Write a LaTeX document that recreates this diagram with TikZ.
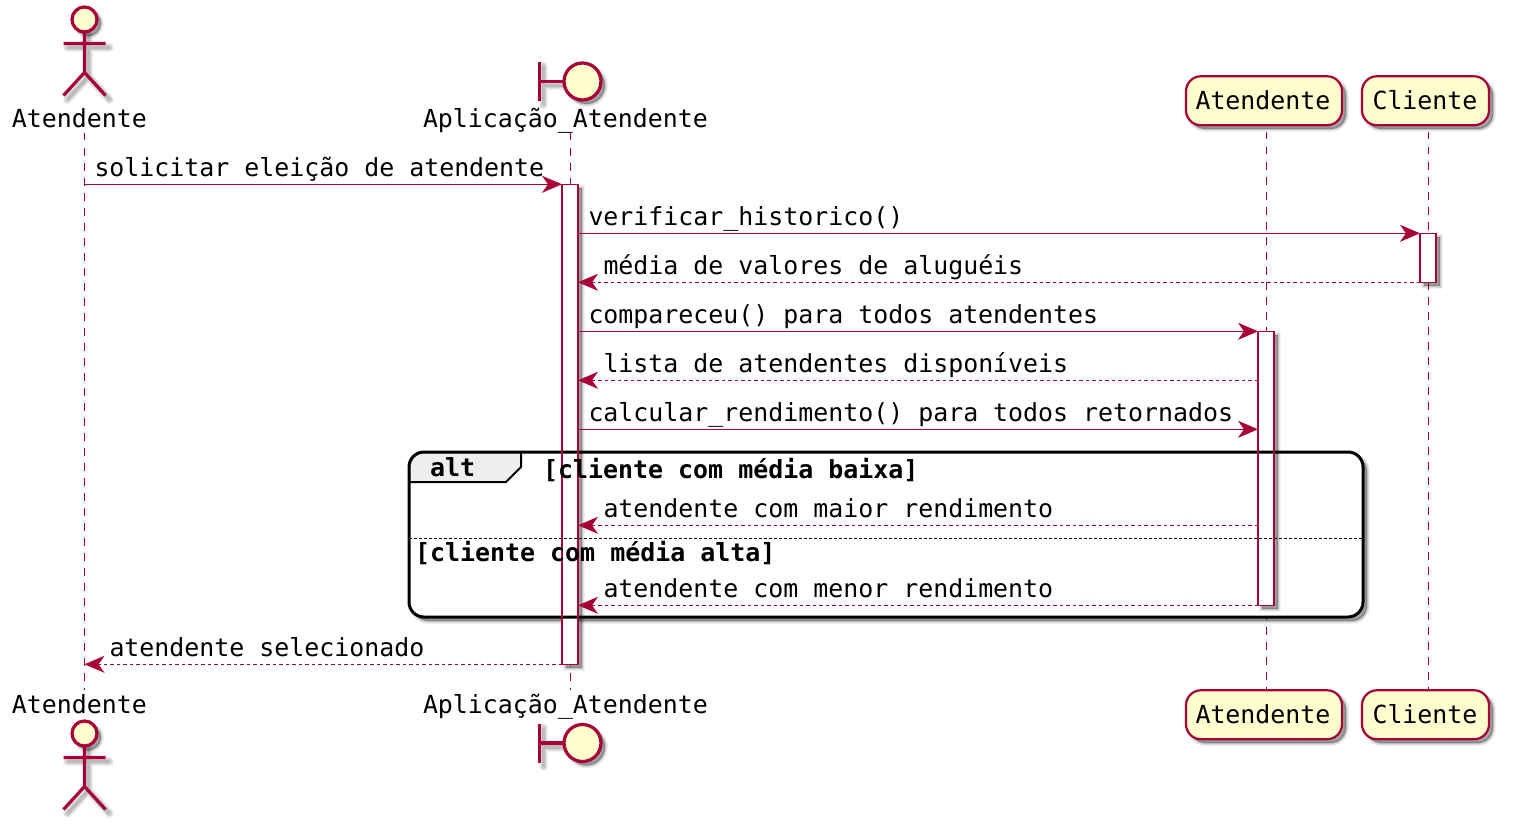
\documentclass[tikz,border=0pt]{standalone}
\usepackage{fontspec}
\setmonofont{DejaVu Sans Mono}
\usetikzlibrary{arrows.meta}
\definecolor{puml}{HTML}{A80036}
\definecolor{pumlfill}{HTML}{FEFECE}
\definecolor{tabfill}{HTML}{EEEEEE}
\newcommand{\softline}[2]{%
  \begin{scope}[shift={(4,4)}]
    \draw[black,opacity=.05,line width=#1pt+6pt,line cap=round] #2;
    \draw[black,opacity=.06,line width=#1pt+4pt,line cap=round] #2;
    \draw[black,opacity=.08,line width=#1pt+2pt,line cap=round] #2;
    \draw[black,opacity=.10,line width=#1pt] #2;
  \end{scope}}
\newcommand{\softfill}[1]{%
  \begin{scope}[shift={(4,4)}]
    \fill[black,opacity=.05,draw=black,draw opacity=.05,line width=6pt] #1;
    \fill[black,opacity=.08,draw=black,draw opacity=.08,line width=4pt] #1;
    \fill[black,opacity=.10,draw=black,draw opacity=.10,line width=2pt] #1;
    \fill[black,opacity=.14] #1;
  \end{scope}}
\newcommand{\actorfig}[2]{% x, head-centre y
  \softline{3.2}{(#1-21,#2+24) -- (#1+21,#2+24) (#1,#2+12) -- (#1,#2+53) (#1-21,#2+76) -- (#1,#2+53) -- (#1+21,#2+76)}
  \softfill{(#1,#2) circle (12.5)}
  \draw[actline] (#1-21,#2+24) -- (#1+21,#2+24) (#1,#2+12) -- (#1,#2+53) (#1-21,#2+76) -- (#1,#2+53) -- (#1+21,#2+76);
  \draw[actline,fill=pumlfill] (#1,#2) circle (12.5);}
\newcommand{\boundaryfig}[2]{% circle centre
  \softline{3.2}{(#1-43,#2-19.5) -- (#1-43,#2+19.5) (#1-43,#2) -- (#1-18,#2)}
  \softfill{(#1,#2) circle (18.5)}
  \draw[actline] (#1-43,#2-19.5) -- (#1-43,#2+19.5) (#1-43,#2) -- (#1-18,#2);
  \draw[actline,fill=pumlfill] (#1,#2) circle (18.5);}
\tikzset{
  x=1pt,y=-1pt,
  every node/.style={font=\ttfamily\fontsize{24.9pt}{28pt}\selectfont,text=black,inner sep=0pt,outer sep=0pt},
  txt/.style={anchor=base west},
  boldtxt/.style={anchor=base west,font=\ttfamily\bfseries\fontsize{24.95pt}{28pt}\selectfont},
  actline/.style={draw=puml,line width=3.2pt},
  lifeline/.style={draw=puml,line width=1.5pt,dash pattern=on 7.5pt off 7.5pt},
  partbox/.style={draw=puml,line width=2.2pt,fill=pumlfill,rounded corners=15pt,minimum height=49pt},
  barbox/.style={draw=puml,line width=1.8pt,fill=white,minimum width=16pt},
  msg/.style={draw=puml,line width=1.6pt,-{Stealth[length=20pt,width=17pt,inset=6pt,fill=puml]}},
  ret/.style={msg,dash pattern=on 3.5pt off 3pt},
}
\begin{document}
\begin{tikzpicture}
\useasboundingbox[fill=white] (0,0) rectangle (1515,824);

% named anchors of lifelines
\coordinate (a1) at (84.5,133);  \coordinate (a1e) at (84.5,690);
\coordinate (a2) at (570.5,133); \coordinate (a2e) at (570.5,690);
\coordinate (a3) at (1266.5,132);  \coordinate (a3e) at (1266.5,690);
\coordinate (a4) at (1428.5,132);  \coordinate (a4e) at (1428.5,690);

% message rows
\coordinate (r1) at (0,184.3); \coordinate (r2) at (0,233.3); \coordinate (r3) at (0,282.3);
\coordinate (r4) at (0,331.3); \coordinate (r5) at (0,380.3); \coordinate (r6) at (0,429.3);
\coordinate (r7) at (0,525.3); \coordinate (r8) at (0,605.3); \coordinate (r9) at (0,664.3);

% lifelines
\draw[lifeline] (a1) -- (a1e);
\draw[lifeline] (a2) -- (a2e);
\draw[lifeline] (a3) -- (a3e);
\draw[lifeline] (a4) -- (a4e);

% participants
\actorfig{84.5}{19.5}
\actorfig{84.5}{733.5}
\node[txt] (actT) at (12,128) {Atendente};
\node[txt] (actB) at (12,713) {Atendente};

\boundaryfig{582.5}{81.5}
\boundaryfig{582.5}{743}
\node[txt] (appT) at (423,128) {Aplicação\_Atendente};
\node[txt] (appB) at (423,713) {Aplicação\_Atendente};

\softfill{[rounded corners=15pt] (1186,76.5) rectangle (1342,125)}
\softfill{[rounded corners=15pt] (1362,76.5) rectangle (1489,125)}
\softfill{[rounded corners=15pt] (1186,690.5) rectangle (1342,739)}
\softfill{[rounded corners=15pt] (1362,690.5) rectangle (1489,739)}
\node[partbox,minimum width=156pt] (atT) at (1264,100.75) {};
\node[partbox,minimum width=127pt] (clT) at (1425.5,100.75) {};
\node[partbox,minimum width=156pt] (atB) at (1264,714.75) {};
\node[partbox,minimum width=127pt] (clB) at (1425.5,714.75) {};
\node[txt] (atTt) at (1195.5,109.5) {Atendente};
\node[txt] (clTt) at (1372.5,109.5) {Cliente};
\node[txt] (atBt) at (1195.5,723.5) {Atendente};
\node[txt] (clBt) at (1372.5,723.5) {Cliente};

% group background
\softfill{[rounded corners=15pt] (409,452) rectangle (1363,617)}
\fill[white,rounded corners=15pt] (409,452) rectangle (1363,617);

% activation bars
\softfill{(562,184) rectangle (578,664)}
\softfill{(1420,233) rectangle (1436,282)}
\softfill{(1258,331) rectangle (1274,605)}
\node[barbox,minimum height=480pt] (b2) at (570,424.5) {};
\node[barbox,minimum height=49pt] (b4) at (1428,258) {};
\node[barbox,minimum height=274pt] (b3) at (1266,468.5) {};

% group frame
\draw[fill=tabfill,draw=black,line width=2pt]
  (409,467) arc[start angle=180,end angle=270,radius=15] -- (521,452) -- (521,467) -- (506,482) -- (409,482) -- cycle;
\draw[black,line width=3pt,rounded corners=15pt] (409,452) rectangle (1363,617);
\draw[black,line width=1.3pt,dash pattern=on 2.5pt off 2.5pt] (409,538.5) -- (1363,538.5);
\draw[puml,line width=1.8pt] (b2.north west) -- (b2.south west) (b2.north east) -- (b2.south east)
  (b3.north west) -- (b3.south west) (b3.north east) -- (b3.south east);

\node[boldtxt] (galt) at (430,476) {alt};
\node[boldtxt] (g1) at (543,478) {[cliente com média baixa]};
\node[boldtxt] (g2) at (415,561) {[cliente com média alta]};

% messages
\draw[msg] (a1 |- r1) -- (b2.west |- r1);
\draw[msg] (b2.east |- r2) -- (b4.west |- r2);
\draw[ret] (b4.west |- r3) -- (b2.east |- r3);
\draw[msg] (b2.east |- r4) -- (b3.west |- r4);
\draw[ret] (b3.west |- r5) -- (b2.east |- r5);
\draw[msg] (b2.east |- r6) -- (b3.west |- r6);
\draw[ret] (b3.west |- r7) -- (b2.east |- r7);
\draw[ret] (b3.west |- r8) -- (b2.east |- r8);
\draw[ret] (b2.west |- r9) -- (a1 |- r9);

\node[txt] (m1) at (94.5,176) {solicitar eleição de atendente};
\node[txt] (m2) at (588.5,225) {verificar\_historico()};
\node[txt] (m3) at (603.5,274) {média de valores de aluguéis};
\node[txt] (m4) at (588.5,323) {compareceu() para todos atendentes};
\node[txt] (m5) at (603.5,372) {lista de atendentes disponíveis};
\node[txt] (m6) at (588.5,421) {calcular\_rendimento() para todos retornados};
\node[txt] (m7) at (603.5,517) {atendente com maior rendimento};
\node[txt] (m8) at (603.5,597) {atendente com menor rendimento};
\node[txt] (m9) at (109.5,656) {atendente selecionado};
\end{tikzpicture}
\end{document}
